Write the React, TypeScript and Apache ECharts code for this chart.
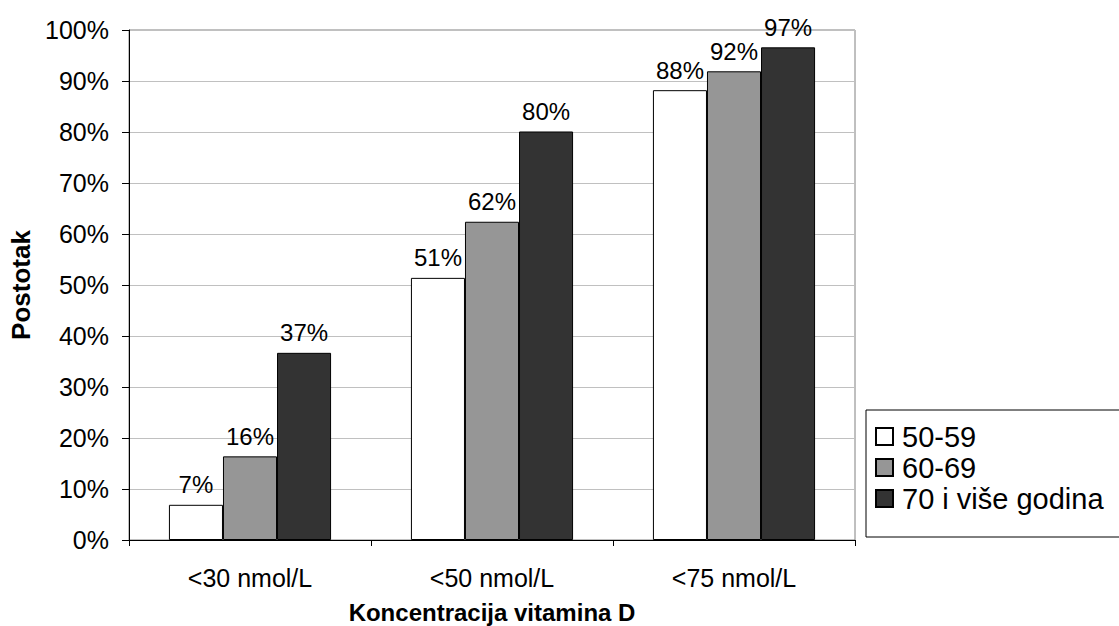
import React, { useEffect, useRef } from "react";
import * as echarts from "echarts";

const categories = ["<30 nmol/L", "<50 nmol/L", "<75 nmol/L"];
const seriesNames = ["50-59", "60-69", "70 i više godina"];
const values5059 = [6.9, 51.4, 88.2];
const values6069 = [16.4, 62.4, 91.9];
const values70 = [36.7, 80.1, 96.6];
const seriesColors = ["#ffffff", "#969696", "#333333"];
const yTitle = "Postotak";
const xTitle = "Koncentracija vitamina D";

const FONT = "'Liberation Sans', Arial, sans-serif";

export default function App() {
  const ref = useRef<HTMLDivElement>(null);
  useEffect(() => {
    if (!ref.current) return;
    const chart = echarts.init(ref.current, undefined, { renderer: "svg" });
    const data = [values5059, values6069, values70];
    chart.setOption({
      animation: false,
      backgroundColor: "#ffffff",
      textStyle: { fontFamily: FONT, color: "#000" },
      grid: {
        left: 129,
        right: 264,
        top: 30,
        bottom: 86,
        outerBoundsMode: "none",
        containLabel: false,
        show: true,
        borderColor: "#808080",
        borderWidth: 1,
        backgroundColor: "transparent",
      },
      legend: {
        orient: "vertical",
        left: 866,
        top: 410,
        padding: [12, 34, 24, 9],
        itemWidth: 17,
        itemHeight: 17,
        itemGap: 2,
        icon: "rect",
        backgroundColor: "#ffffff",
        borderColor: "#000",
        borderWidth: 1,
        borderRadius: 0,
        textStyle: { fontFamily: FONT, fontSize: 29, lineHeight: 29, color: "#000", padding: [0, 0, 0, 4] },
        data: seriesNames,
      },
      xAxis: {
        type: "category",
        data: categories,
        boundaryGap: true,
        name: xTitle,
        nameLocation: "middle",
        nameGap: 60,
        nameTextStyle: { fontFamily: FONT, fontSize: 24, fontWeight: "bold", color: "#000" },
        axisLine: { show: true, lineStyle: { color: "#000", width: 1 } },
        axisTick: { show: true, length: 6, lineStyle: { color: "#000" } },
        axisLabel: { fontFamily: FONT, fontSize: 25, color: "#000", margin: 25 },
        splitLine: { show: false },
      },
      yAxis: {
        type: "value",
        min: 0,
        max: 100,
        interval: 10,
        name: yTitle,
        nameLocation: "middle",
        nameGap: 93,
        nameTextStyle: { fontFamily: FONT, fontSize: 26, fontWeight: "bold", color: "#000" },
        axisLine: { show: true, lineStyle: { color: "#000", width: 1 } },
        axisTick: { show: true, length: 7, lineStyle: { color: "#000" } },
        axisLabel: { fontFamily: FONT, fontSize: 25, color: "#000", margin: 20, formatter: "{value}%" },
        splitLine: { show: true, lineStyle: { color: "#c0c0c0", width: 1 } },
      },
      series: seriesNames.map((name, i) => ({
        name,
        type: "bar",
        data: data[i],
        barGap: "0%",
        barCategoryGap: "33%",
        itemStyle: { color: seriesColors[i], borderColor: "#000", borderWidth: 1 },
        label: {
          show: true,
          position: "top",
          distance: 8,
          fontFamily: FONT,
          fontSize: 24,
          color: "#000",
          formatter: (p: any) => `${Math.round(p.value)}%`,
        },
      })),
    });
    return () => chart.dispose();
  }, []);
  return (
    <div
      ref={ref}
      style={{ position: "fixed", left: 0, top: 0, width: 1119, height: 626 }}
    />
  );
}
